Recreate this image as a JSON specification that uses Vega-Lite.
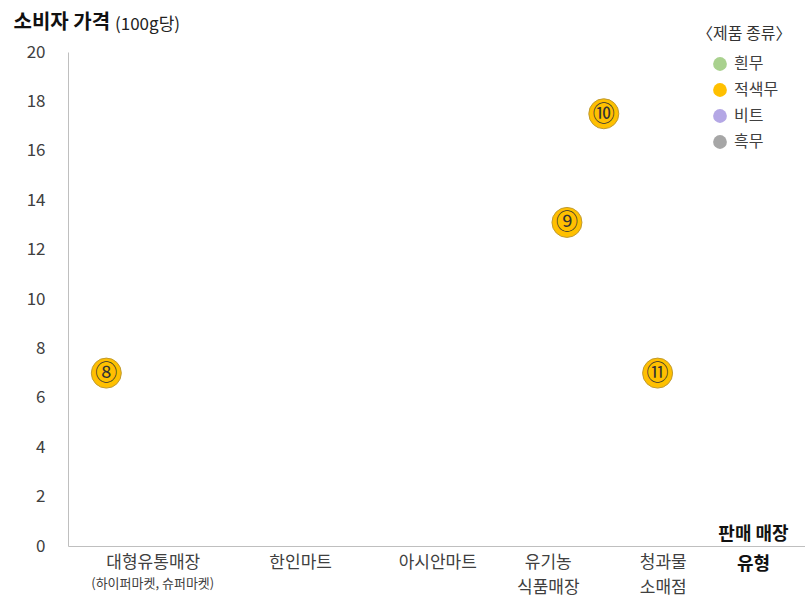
{
  "$schema": "https://vega.github.io/schema/vega-lite/v6.json",
  "width": 737,
  "height": 494,
  "autosize": {"type": "none"},
  "padding": {"left": 68, "top": 52, "right": 0, "bottom": 54},
  "background": "white",
  "config": {
    "font": "Noto Sans CJK KR",
    "view": {"stroke": null},
    "axis": {"grid": false, "ticks": false, "domainColor": "#bfbfbf", "labelColor": "#404040", "labelFontSize": 17, "labelFont": "Noto Sans CJK KR", "titleFont": "Noto Sans CJK KR"}
  },
  "title": {"text": "(100g당)", "anchor": "start", "frame": "group", "dx": 47, "offset": 0, "dy": 22, "fontSize": 17, "fontWeight": "normal", "color": "#222", "font": "Noto Sans CJK KR"},
  "layer": [
    {
      "data": {"values": [
        {"매장": "대형유통매장", "번호": "⑧", "제품": "적색무", "x": 5.2, "가격": 7.0},
        {"매장": "유기농 식품매장", "번호": "⑨", "제품": "적색무", "x": 67.7, "가격": 13.1},
        {"매장": "유기농 식품매장", "번호": "⑩", "제품": "적색무", "x": 72.7, "가격": 17.5},
        {"매장": "청과물 소매점", "번호": "⑪", "제품": "적색무", "x": 80.0, "가격": 7.0}
      ]},
      "layer": [
        {
          "mark": {"type": "point", "filled": true, "opacity": 1, "size": 900, "stroke": "#c09a30", "strokeWidth": 1},
          "encoding": {
            "x": {"field": "x", "type": "quantitative", "scale": {"domain": [0, 100], "nice": false, "zero": false},
              "axis": {"values": [11.5, 31.5, 50.1, 65.1, 80.7], "labelPadding": 8, "labelLineHeight": 25,
                "labelExpr": "datum.value < 20 ? '대형유통매장' : datum.value < 40 ? '한인마트' : datum.value < 60 ? '아시안마트' : datum.value < 70 ? ['유기농','식품매장'] : ['청과물','소매점']",
                "title": ["판매 매장", "유형"], "titleX": 685, "titleY": -12, "titleAlign": "center", "titleBaseline": "middle", "titleFontSize": 18, "titleFontWeight": "bold", "titleColor": "#111", "titleLineHeight": 30}},
            "y": {"field": "가격", "type": "quantitative", "scale": {"domain": [0, 20], "nice": false},
              "axis": {"values": [0, 2, 4, 6, 8, 10, 12, 14, 16, 18, 20], "labelPadding": 23,
                "title": "소비자 가격", "titleAngle": 0, "titleX": -55, "titleY": -30, "titleAlign": "left", "titleBaseline": "middle", "titleFontSize": 20, "titleFontWeight": "bold", "titleColor": "#111"}},
            "color": {"field": "제품", "type": "nominal",
              "scale": {"domain": ["흰무", "적색무", "비트", "흑무"], "range": ["#a9d18e", "#ffc000", "#b4a7e5", "#a6a6a6"]},
              "legend": {"title": "〈제품 종류〉", "orient": "none", "legendX": 629, "legendY": -26, "titleFontSize": 16, "titleFontWeight": "normal", "titleColor": "#333", "titlePadding": 14, "labelFontSize": 16, "labelColor": "#404040", "symbolType": "circle", "symbolSize": 190, "symbolOffset": 15, "symbolStrokeWidth": 0, "rowPadding": 10, "labelOffset": 6}}
          }
        },
        {
          "mark": {"type": "text", "fontSize": 22, "color": "#333", "font": "Noto Sans CJK KR", "baseline": "middle", "align": "center"},
          "encoding": {
            "x": {"field": "x", "type": "quantitative"},
            "y": {"field": "가격", "type": "quantitative"},
            "text": {"field": "번호"}
          }
        }
      ]
    },
    {
      "data": {"values": [{"x": 11.5, "y": 0, "label": "(하이퍼마켓, 슈퍼마켓)"}]},
      "mark": {"type": "text", "fontSize": 13, "color": "#404040", "dy": 38, "baseline": "middle", "align": "center"},
      "encoding": {
        "x": {"field": "x", "type": "quantitative"},
        "y": {"field": "y", "type": "quantitative"},
        "text": {"field": "label"}
      }
    }
  ]
}
